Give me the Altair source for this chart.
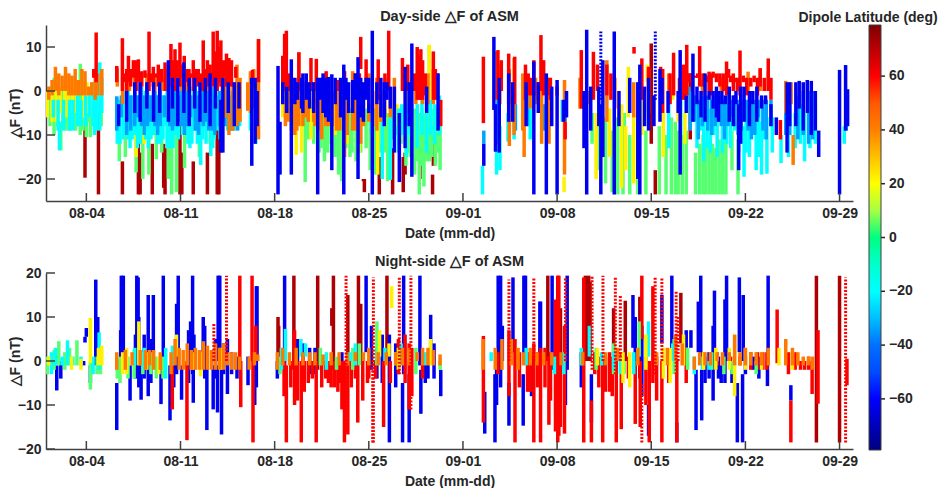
import altair as alt
import pandas as pd

# Every segment: (day since 1 Aug, low, high).
LAT_STOPS = [-79, -60, -40, -20, 0, 20, 40, 60, 79]
JET = ["#00007f", "#0000ff", "#0070ff", "#00ffff", "#00ff80", "#ffff00", "#ff8000", "#ff0000", "#7f0000"]
LAT_TICKS = [-60, -40, -20, 0, 20, 40, 60]
TICK_DATES = ["2021-08-04", "2021-08-11", "2021-08-18", "2021-08-25", "2021-09-01",
              "2021-09-08", "2021-09-15", "2021-09-22", "2021-09-29"]
DAY_TICKS = [-20, -10, 0, 10]
NIGHT_TICKS = [-20, -10, 0, 10, 20]

DAY_DARK = [(2.9,-19.7,-8),(3.9,-23.5,-5),(5.68,-23.5,-16),(6.87,-23.5,-9),(7.0,-23.5,-14),(7.9,-23.5,-12),(8.85,-23.5,-13),(8.75,-22,-12),
    (9.96,-23.5,-7),(10.1,-23.5,-14),(10.95,-23.5,-16),(12.0,-23.5,-14),(12.73,-23.5,-6),(12.85,-23.5,-9),(10.8,-10,-7),
    (23.67,-23,-20),(23.6,-20.5,-20),(24.78,-23.5,-15),(25.77,-23.5,-13),(26.56,-23,-15),(26.7,-19,-14),(27.8,-20,-16),(28.74,-23.5,-19),(28.8,-17,-12),
    (45.0,-12,10.8),(45.3,-23.5,-18),(47.4,4,-1),(47.9,-11,4)]
DAY_GREEN = [(0.3,-8,1),(0.6,-10,3),(1.1,-13.5,-7),(1.5,-9,0),(2.55,-10,6.2),(2.2,-9,0),(3.0,-10.5,-3),(3.3,-10.5,-2),(4.1,-8,5),(0.85,-8,-1),(1.25,-8,1),(1.8,-9,1),(2.4,-8,0),(2.75,-9,1),(3.15,-7,1),(3.55,-7,0),
    (5.45,-16,-10),(5.9,-15,-5),(6.7,-18.5,-8),(7.2,-20,-8),(7.65,-19,-6),(8.2,-15.5,-6),(8.6,-14,-4),(9.1,-20,-8),(9.35,-23.5,-9),(9.7,-23,-8),
    (10.3,-17.5,-8),(11.4,-15,-8),(12.2,-12,-6),(19.27,-20.7,-4),(20.7,-16,-5),(20.3,-14,-4),(21.75,-19,-5),(22.0,-20.5,-5),(22.6,-15,-4),(23.05,-16,-5),
    (24.5,-19,-4),(25.4,-20.5,-5),(24.1,-18,-6),(26.76,-17,5.5),(27.1,-15,-4),(27.4,-19,-4),(27.75,-23.5,-5),(28.1,-21.7,-5),(28.5,-16,10.3),(29.3,-18,-8),(28.95,-17,-5),
    (19.5,-11,-4),(19.9,-12,-4),(20.45,-13,-4),(20.95,-14,-4),(21.2,-12,-4),(21.5,-15,-4),(22.3,-13,-4),(22.75,-14,-4),(23.4,-14,-4),(23.8,-13,-4),(24.3,-12,-4),(24.8,-14,-4),(25.2,-14,-4),(25.7,-11,-4),(26.0,-10,-4),(26.4,-12,-4),(27.0,-14,-4),(27.55,-16,-4),(27.95,-17,-4),(28.3,-16,-4),(28.7,-15,-4),(29.1,-14,-4),
    (41.0,-18,-8),(42.5,-23.5,-6),(42.9,-23.5,-8),(43.4,-23.5,-10),(44.0,-23.5,-8),(44.6,-23.5,-9),(45.6,-23.5,-8),(46.1,-23.5,-10),(46.5,-23.5,-6),(46.8,-23.5,-7),
    (47.0,-23.5,-9),(47.3,-23.5,-10),(47.6,-23.5,-9),(48.3,-23.5,-14),(48.6,-23.5,-12),(48.85,-23.5,-10),(49.05,-23.5,-11),(49.3,-23.5,-11),(49.55,-23.5,-12),
    (49.8,-23.5,-13),(50.05,-23.5,-11),(50.3,-23.5,-11),(50.55,-23.5,-11),(51.0,-18,-9),(51.45,-23.5,-11),(43.0,-15,-5),(42.1,-23,-9),(41.6,-21,-6),(40.6,-12,-5)]
DAY_YELLOW = [(0.1,-6,0),(0.75,-7,1),(1.4,-6,2),(1.95,-5,2),(2.8,-6,1),(3.45,-6,0),(4.05,-5,5),(0.45,-7,0),(1.05,-5,1),(1.65,-6,2),(2.25,-5,0),(3.05,-5,2),(3.7,-5,2),(6.7,-15,-4),(7.3,-12,-3),
    (18.6,-14.5,-3),(19.0,-14,-3),(19.7,-11,-2),(18.3,-9,-4),(17.6,-6,-2),(21.5,-10,-3),(22.4,-12,-3),(23.3,-14,-3),(24.66,-19,-4),(25.0,-12,-3),(26.1,-8,-3),(26.3,-11,-4),(28.5,-3,10.5),
    (40.9,-20,-5),(41.9,-15,-4),(42.8,-22,-3),(43.3,5.5,-6),(43.1,-18,-8),(43.7,-21,-5),(44.3,-10,-2),(44.7,2,6),(45.9,-15,-5),(47.0,-7,-2),(47.5,-12,-5),(46.6,-2,0),
    (38.52,-23,-19.5)]
DAY_CYAN = [(0.9,-9,-2),(1.0,-13.5,-7),(1.75,-9,-2),(2.35,-8,-1),(3.6,-10,-2),(3.75,-9,-1),(4.0,-9,6.5),(3.5,-8,2),(4.15,-5,3),(0.55,-6,-2),(1.3,-9,-2),(2.0,-9,-2),(2.6,-8,-2),(2.95,-8,-1),(3.25,-6,-1),
    (5.3,-12,-1.5),(5.5,-12,-2),(5.75,-11,0),(6.1,-11,0),(6.4,-11,-1),(6.8,-13,-1),(7.4,-11,0),(7.8,-11,-1),(8.0,-10,0),(8.3,-12,-1),(8.7,-11,-1),(9.0,-13,0),
    (9.45,-13,-1),(9.85,-11,0),(10.15,-10,-1),(10.55,-12,0),(10.7,-13,1),(11.0,-9,2),(11.25,-12,0),(11.5,-16.8,-5),(11.9,-12,0),(12.25,-14.8,-5),(12.5,-11,-1),(13.1,-10,0),(13.5,-9,0),(14.0,-9,-2),(14.4,-8,1),
    (5.95,-9,-1),(6.25,-13,-1),(6.6,-10,-1),(7.0,-12,-1),(7.2,-8,-1),(7.6,-13,-1),(8.15,-9,-1),(8.5,-12,-1),(8.85,-8,-1),(9.25,-13,-1),(9.65,-10,-1),(10.35,-8,-1),(10.85,-12,-1),(11.15,-9,-1),(11.65,-11,-1),(12.1,-8,-1),(12.4,-13,-1),(12.7,-9,-1),(12.95,-11,-1),(13.3,-7,-1),(13.75,-9,-1),(14.2,-6,-1),
    (15.2,-9,-3),(15.6,-12,-4),(19.5,-7,-2),(24.2,-10,-3),(25.0,-20,-5),(25.6,-20.2,-6),(26.2,-14,-4),(26.8,-15,-3),(27.2,-13,-3),(27.6,-13,-3),(28.3,-14,-3),(28.9,-12,-3),(29.25,-10,-1),(26.45,-10,-3),(27.0,-10,-2),(27.95,-10,-2),(28.6,-10,-2),
    (32.45,-23.5,-17),(33.5,-19,-9),(33.75,-18,-8),(34.35,-11.5,-5),(34.8,-11,-6),(36.0,-11,-4),(44.0,-8,1),
    (46.3,-13,3),(47.2,-11,0),(48.4,-13,-3),(48.9,-16,-5),(49.4,-14,-4),(49.9,-15,-5),(50.3,-14,-5),(50.9,-13,-6),(51.5,-14,-6),(51.9,-19.5,-8),(52.3,-15,-5),(52.8,-18,-7),(53.2,-19,-7),(53.6,-18.8,-6),(54.0,-14,-6),(48.65,-9,-4),(49.15,-13,-4),(49.65,-10,-4),(50.6,-12,-4),(51.2,-9,-4),(52.05,-14,-4),(52.55,-10,-4),(53.0,-15,-4),(53.4,-11,-4),
    (54.65,-16.4,-10),(55.2,-15,-6),(55.7,-13,-5),(56.1,-12,-3),(56.4,-16,-5),(56.8,-13,-3),(57.2,-12,-3),(59.35,-12,-8)]
DAY_SKY = [(5.26,-9,-1.2),(6.0,-10,1),(6.6,-8,0),(7.1,-8,1),(7.55,-8,1),(8.1,-8,0),(8.5,-8,1),(9.2,-8,3),(9.6,-8,1),(10.1,-8,2),(10.45,-8,5),(11.1,-9,2),(11.7,-8,2),(12.1,-9,1),(12.35,-9,1),(12.9,-8,0),(13.3,-8,1),(13.85,-9,0),(14.25,-9,0),
    (5.6,-6,-1),(6.3,-9,-1),(6.85,-6,-1),(7.3,-10,-1),(7.8,-7,-1),(8.3,-10,-1),(8.8,-6,-1),(9.4,-9,-1),(9.85,-7,-1),(10.3,-10,-1),(10.75,-6,-1),(11.35,-10,-1),(11.95,-7,-1),(12.55,-10,-1),(13.1,-6,-1),(13.6,-9,-1),(14.1,-7,-1),
    (32.55,-12,-9),(33.6,-12,-2),(34.9,-9,-3),(35.8,-8,-1),(37.0,-9,-3),(38.4,-7,-2),(38.6,-7,-3),(47.9,-9,1),(48.2,-7,-1),(48.8,-8,-1),(49.2,-9,-1),(49.75,-8,-1),(50.2,-8,-1),(50.7,-8,-1),(51.2,-8,-1),(51.7,-9,-2),(52.2,-9,-2),(52.7,-10,-2),(53.3,-9,-2),(53.9,-8,-2),(48.5,-11,-2),(49.0,-6,-2),(49.5,-10,-2),(50.0,-7,-2),(50.45,-11,-2),(50.95,-6,-2),(51.45,-10,-2),(52.0,-7,-2),(52.45,-11,-2),(52.95,-6,-2),(53.55,-11,-2),
    (55.0,-10,0),(55.3,-10,-1),(55.9,-11,-1),(56.3,-10,0),(56.7,-12,0),(57.0,-11,0),(59.5,-9,0)]
DAY_ORANGE = [(0.2,-2,1),(0.45,-1,2.5),(0.7,0,5.5),(0.95,-1,4),(1.2,0,3.5),(1.45,0,5.5),(1.7,-1,4),(1.93,-1,3.5),(2.17,-1,5),(2.42,-1,2.5),(2.67,-1,5),(2.9,-1,4.5),(3.16,-1,1),(3.4,-1,2),(3.66,-2,3.5),(3.85,-1,4),(4.15,-1,5),
    (5.3,1,5.2),(5.7,-3,3),(6.2,0,3),(6.6,0,3),(7.0,0,3.5),(7.5,0,4),(8.1,0,3),(8.6,0,3),(9.1,0,3),(9.5,0,3),(10.1,0,3),(10.5,0,3),(11.0,0,3),(11.6,0,3),(12.1,0,3),(12.6,0,3),(13.1,0,4),(13.6,-10,5.5),(14.2,-8,6),(14.43,-7,3),(13.9,-9,2),(13.3,-6,3),
    (15.0,-4.5,2),(15.2,-5,4.5),(15.45,-4,5),(15.8,-11,11.8),(15.7,-10,3),
    (17.6,-3,3),(18.0,-7,2),(18.5,-10,3),(18.8,-8,8.8),(19.3,-6,2),(19.9,-7,2),(20.5,-11,3),(21.0,-8,3),(21.6,-9,2),(22.2,-15,2),(22.8,-9,4.5),(23.4,-12,2),(24.0,-7,4),(24.6,-9,3),(25.2,-6,3),(25.9,-4,3),(27.0,-5,2),(27.5,-3,3),(28.0,-3,3),(28.4,-3,4),(28.8,-3,5),
    (17.8,-8,0),(18.25,-9,0),(18.65,-9,0),(19.1,-8,0),(19.5,-7,0),(20.0,-8,0),(20.3,-9,0),(20.8,-8,0),(21.3,-8,0),(21.85,-9,0),(22.4,-10,0),(23.0,-9,0),(23.6,-8,0),(24.3,-8,0),(24.9,-7,0),(25.6,-6,0),
    (33.5,-2,9),(33.75,-3,6),(34.45,-12.5,5),(34.8,-10,7.5),(35.45,-9,4),(35.55,-15,3),(36.0,-4,2),(36.4,-3,3),(36.85,-12,7),(37.4,-12,3),(38.55,-19,2.5),
    (39.7,-4,3),(40.4,-3,0),(41.7,-7,7),(42.3,-4,3),(43.7,-6,2),(44.1,-5,2),(44.8,-5,5),(46.3,0,4),(47.5,-2,2),(48.8,-1,2.5),(50.2,0,3),(52.2,0,4.4),(53.1,0,5),(53.7,0,4.5),
    (55.0,-5,2.3),(55.55,-16.8,-10),(55.4,-3,2)]
DAY_RED = [(3.73,2,13.3),(3.55,3,5),(5.26,2,5.7),(5.68,0,12),(5.85,2,4),(6.0,0,5),(6.13,2,8),(6.3,1,5),(6.5,3,7),(6.7,0,7),(6.87,2,7.2),(7.12,1,4.5),(7.36,3,4.7),(7.66,0,13.5),(7.8,2,4),(7.98,1,5.5),(8.2,3,4),(8.35,1,6),(8.6,2,5),(8.85,0,6.5),(9.1,3,5),(9.29,1,10.7),(9.45,2,7),(9.59,0,9.5),(9.75,3,7),(9.96,1,11),(10.15,3,6),(10.28,0,8),(10.45,2,5),(10.63,1,5),(10.8,3,4),(10.95,0,7),(11.15,2,5),(11.32,1,5),(11.5,2,4),(11.69,0,11.5),(11.85,3,5),(12.0,1,7),(12.2,3,6),(12.43,1,13.5),(12.6,2,9),(12.73,0,13.7),(12.85,2,10),(13.0,1,11.5),(13.2,3,7),(13.42,1,8.5),(13.6,2,7.5),(13.79,1,7),(14.11,3,5.5),
    (15.35,1,4.8),(15.8,2,11.8),(17.74,0,13),(17.87,1,13.7),(17.6,0,8),(18.1,0,4),(18.8,0,8.8),(19.7,0,7.5),(20.1,0,7.3),(20.83,0,4.5),(21.7,0,2.5),(22.2,0,4.5),(23.0,0,4),(23.4,5,12.3),(23.3,0,4),(23.8,0,7.2),(24.7,-2,7.2),(25.2,-2,4),(25.48,0,13.7),(26.5,0,7.5),(26.9,0,6),(27.4,0,4),(27.6,-2,10),(27.87,-2,9.5),(28.2,-1,4),(28.8,-2,9),(29.1,-2,4),(29.35,-8,-2),(27.75,-2,8),(28.0,-2,7),(28.95,-2,5),
    (32.52,-7.3,7.8),(33.6,-2,9.3),(33.85,0,7),(34.4,-3,8.5),(34.85,-3,7.8),(35.65,-2,6),(36.27,-1,7),(36.6,-2,2),(36.8,0,12.7),(37.5,-2,3),(38.0,-1,1),(38.6,-11,-7),(35.85,-1,4),(36.05,-1,3),(37.0,-1,7),(37.3,-1,3),
    (39.8,-4,9.3),(40.7,-2,8.9),(41.0,0,6),(41.7,-1,6),(42.0,-2,4),(43.72,8.5,10),(44.3,-2,7.4),(44.8,0,5.5),(45.7,-2,5.5),(45.85,-5,5),(46.66,-1,8.7),(46.4,-3,4),(47.1,-3,3),(47.64,-1,10.5),(47.4,-2,6),(48.6,1,10.2),(48.3,3,3.5),(49.1,2,3.5),(49.3,0,4.4),(49.6,3,4.4),(50.1,1,4),(50.6,-1,6.7),(50.9,2,3.5),(51.1,0,4),(51.6,-1,9.2),(51.3,2,3),(52.4,1,3),(52.9,-1,3),(53.1,1,5.2),(53.7,0,7.4),(54.6,-11,-6.6),
    (47.85,2,4),(48.05,0,3),(48.45,3,4),(48.85,1,4),(49.45,-1,4),(49.85,2,4),(50.35,0,4),(50.75,3,5),(51.4,0,3),(51.85,2,3.5),(52.1,-1,3),(52.65,2,3.5),(53.4,0,3),(53.9,-2,3)]
DAY_BLUE = [(5.4,-8,-3),(6.0,-7,0),(6.6,-5,2),(7.0,-7,2),(7.5,-4,2),(8.0,-7,2),(8.45,-5,2),(9.1,-7,7),(9.4,-4,3),(9.8,-8,3),(10.25,-5,6.5),(10.65,-8,3),(11.05,-4,3),(11.45,-7,2),(11.85,-5,3),(12.2,-8,4),(12.6,-4,3),(13.0,-14,-2),(13.15,-14,3),(13.55,-5,2),(14.0,-8,2),(14.35,-4,2),
    (15.3,-17,3),(15.55,-12,3),(15.7,-8,0),(17.25,-23.5,5.7),(17.4,-19,-7),(18.24,-19,7.2),(18.5,-3,3),(19.1,-5,4),(19.6,-4,2),(20.2,-23.5,3),(20.6,-5,4),(21.25,-18,3.8),(21.0,-7,3.2),(22.14,-23.5,6),(22.5,-5,2),(23.2,-20,7.7),(23.6,-7,2),(24.26,-23.5,13.7),(25.15,-8,2),(25.9,-14,1),(26.27,-20.7,-5),(26.7,-13,5.5),(27.2,-19.5,10.8),(27.0,-8,2),(29.15,-9,4),(28.3,-5,1),
    (17.6,-3,2),(17.9,-5,1),(18.7,-2,2),(19.0,-4,3),(19.35,-2,4),(19.9,-5,2),(20.4,-2,3),(20.8,-6,3),(21.5,-3,3),(21.9,-6,3),(22.3,-2,3),(22.8,-5,2.5),(23.0,-2,4),(23.4,-6,3),(23.8,-2,3),(24.0,-5,3),(24.6,-3,2),(24.9,-6,3),(25.35,-2,2),(25.6,-4,1),
    (32.55,-17,-12),(33.3,-4.3,12.3),(33.42,-13.8,-3),(33.7,-14,3),(34.4,-7,4),(34.7,-7,2),(35.7,-8,2),(36.27,-23.5,6.7),(36.6,-5,2),(37.2,-23.5,4),(37.6,-8,1),(38.0,-23.5,2.5),(38.5,-7,-2),(38.7,-6,0),
    (40.2,-23.5,13.9),(40.0,-13,0),(40.5,-9,1),(41.25,-23.5,-3),(41.1,-8,1),(41.4,-15,7),(42.25,-23.5,13.5),(42.6,-8,0),(43.4,-5,3),(44.15,-23.5,6),(44.0,-20,2),(44.5,-8,1),(44.8,-9,3),(45.2,-8,-1),(45.65,-7,5),(45.8,-3,3),(46.25,-5,0),(47.15,-19,9.3),(47.0,-5,0),(47.6,-5,-1),(48.1,-7,8.5),(48.4,-3,1),(49.0,-7,4),(49.6,-4,0),(50.0,-7,0),(50.5,-3,-1),(51.1,-8,-1),(51.5,-18,-3),(51.65,-12,1),(52.3,-8,0),(53.2,-4,-1),(53.9,-8,-3),
    (48.7,-6,0),(49.3,-2,0),(49.85,-6,1),(50.25,-3,0),(50.8,-7,1),(51.3,-3,0),(51.9,-7,1),(52.55,-3,0),(52.85,-7,1),(53.5,-3,-1),
    (54.3,-10,-6),(55.1,-14,2),(55.3,-8,2),(55.75,-8,2),(56.0,-4,2.3),(56.3,-9,2),(56.6,-5,2.5),(56.9,-10,2.3),(57.2,-9,0),(57.45,-15,-9),
    (59.0,-23.5,4.8),(59.45,-9,5.9),(59.6,-8,0.4)]
DAY_BLUE_DOT = [(41.25,-2,13.5),(45.3,-2,13.5)]

NIGHT_DARK = [(17.25,-3,10),(17.3,0,8),(18.43,-2,19.4),(20.2,-2,19.4),(21.37,-2,19.4),(21.25,8,12),(22.44,0,15),(23.23,0,19.4),(23.4,0,13),(25.35,0,19.4),(37.31,0,19.4),(38.25,-2,12),(40.1,0,19.4),(40.35,0,19.4),(40.45,0,18),(42.2,0,12),(43.07,0,13.7),(44.15,-4,14.6),(47.2,4,15.5),(57.28,-18.5,19.4),(59.0,-18.5,19.4)]
NIGHT_RED = [(9.39,-11,0),(10.48,-18,0),(14.41,0,19.4),(14.48,-10.5,0),(15.32,0,19.4),(15.39,-18.5,0),(15.6,0,8),
    (17.87,-18.5,-1),(18.48,-10,7),(17.7,-8,0),(18.98,-18.5,0),(19.5,-5,0),(20.09,-18.5,0),(20.5,-6,0),(21.0,-5,0),(21.45,-6,0),(21.7,-7,0),(22.19,-18.5,0),(22.44,-16.7,0),(22.0,-11,0),(23.18,-14,0),(23.55,-9,0),(23.9,-5,0),(24.5,-4,0),(25.1,-15,0),(25.6,-5,0),(26.2,-3,5),(26.7,-5,6),(27.0,-11,4),(27.2,-8,3),(28.0,-4,0),(18.2,-6,0),(18.7,-9,0),(19.2,-7,0),(19.8,-4,0),(20.8,-4,0),(21.2,-6,0),(21.9,-5,0),(22.7,-6,0),(23.0,-4,0),(24.0,-4,0),
    (32.52,-14,5.7),(33.6,-3,2),(34.42,-8,7),(34.87,-18.5,5),(35.8,-7,2),(36.27,-18.5,4),(36.77,-18.5,3),(37.1,-6,3),(37.39,-14.5,1),(37.51,-9,2),(37.88,-16,14),(38.05,-18.5,19.4),(38.13,-17,19.4),(38.25,-15,0),(38.55,-16.5,8),(35.2,-6,2),(36.0,-7,2),(36.55,-6,2),
    (39.98,-18.5,19),(40.55,-18.5,-9),(40.8,-3,2),(41.39,-18.5,0),(41.9,-7,2),(42.4,-18.5,1),(42.77,-15.5,2),(43.81,-14.3,0),(44.3,5,19.4),(44.18,-15,0),(44.85,-18.5,0),(45.12,-5,17),(45.79,-18.5,0),(46.3,-5,0),(46.9,-18.5,0),(47.6,-5,3),(48.9,-1,2),(49.9,-1,2),(50.9,-1,1),(51.6,-1,1),(52.4,-2,2),(52.9,-2,2),(53.3,-2,2),(53.6,-2,2),(41.1,-6,1),(41.6,-7,1),(42.1,-8,1),(43.3,-4,1),(44.6,-10,1),(45.4,-9,1),
    (54.36,-0.5,11.7),(55.38,-18.5,-9),(55.2,-3,2),(55.7,-2,2),(56.1,-2,0),(56.4,-2,0),(56.7,-2,1),(56.96,-7.5,0),(57.4,-9.7,7),(59.55,-5.5,0.5)]
NIGHT_RED_DOT = [(12.48,0,8.5),(13.42,0,19.4),(22.31,-16,19.4),(24.34,-18.5,19),(24.29,-18.5,0),(26.27,-3,19),(27.13,-11,19.4),(34.42,0,18.5),(36.27,0,19),(38.62,0,19),(40.6,-2,19.4),(41.41,0,19.4),(42.33,-3,19),(42.7,0,15),(44.3,-18.5,-5),(45.29,-3,19),(45.79,0,19),(46.85,-3,16),(47.0,0,10),(59.45,-18.5,19)]
NIGHT_BLUE = [(0.8,-6.7,-1),(1.1,-4,0),(2.8,-1,0),(2.9,4.2,5.5),(3.0,5.5,7.5),(3.7,-1,18.5),(3.85,0,10),(3.3,-5,-1),(5.26,-15.7,-5),(5.6,6.5,19.4),(5.75,0,19.4),(6.25,-9,-1),(6.75,0,19.4),(6.85,-2,19),(7.07,-8.8,-1),(7.6,-8,15),(7.98,-1,15),(8.55,-9.8,-1),(8.72,0,19.4),(9.22,-13.5,-1),(9.71,-3,13),(9.83,0,19.4),(10.08,-8.8,-1),(10.75,0,9),(10.9,-3,19.4),(10.95,-9.5,-1),(11.69,0,10),(11.96,-15.7,-1),(12.43,-11,-1),(12.75,-11.7,-1),(12.8,0,19.4),(12.92,0,19.4),(13.05,-16.7,-1),(13.49,-7.5,5),(15.02,-5.5,1),(15.52,-10,1),(15.64,-6,17),(15.69,0,17),
    (5.55,0,7),(6.9,-6,10),(6.65,-4,6),(7.3,-4,6),(7.8,-5,5),(9.5,-6,3),(10.6,-5,7),(11.0,-2,6),(11.8,-4,8),(12.6,-4,5),(13.2,-3,4),(13.8,-3,2),(14.2,-4,1),
    (17.74,-2,19.4),(17.2,-4,0),(18.7,0,5),(19.6,-3,3),(25.53,-18.5,6),(26.59,-3,19.4),(26.51,-18.5,-5),(27.0,-18.5,-3),(27.8,-1,19.4),(27.87,-12,-2),(23.8,2,19.4),(24.2,-2,8),(25.0,-5,6),(28.6,0,10.5),(28.85,-4,4),(29.35,-8,-2),(19.1,-2,4),(20.0,-3,3),(22.0,-3,2),(24.6,-4,3),(26.0,-6,4),(28.2,-5,0),(28.4,-4,2),
    (32.62,-16.5,-7),(33.38,-18.5,-3),(33.5,-10,0),(33.62,0,19.4),(33.8,-6,19.4),(33.93,0,8),(34.42,-14.7,-5),(34.72,2,19),(35.48,-14.7,-3),(35.53,0,19.4),(35.65,0,19.4),(36.1,-8,1),(36.72,0,13.5),(36.77,-1,13.5),(37.63,-2,19.4),(37.9,-6,4),(38.62,-10,0),(38.75,-2,19.4),
    (39.8,-6,2),(40.55,-14,-3),(43.64,3,15),(43.81,-3,10),(44.3,-8,8),(44.8,-17,-10),(45.79,4,15),(46.53,0,19.4),(46.9,-18.5,-14),(47.6,3,7),(47.95,3,7),(48.33,-15.7,-2),(48.5,2,13.5),(48.68,0,19.4),(48.75,-13.5,-2),(49.3,-4,2),(49.6,-9,8),(49.7,-2,16),(50.2,-5,-1),(50.48,-5,14),(50.6,0,19.4),(51.0,-5,-1),(51.4,-18.5,-5),(51.79,-18.5,-3),(51.84,0,15),(51.55,2,19),(52.6,-2,1),(53.64,-5.7,0),(53.69,0,19.4),(55.38,-9,-5.5),(49.0,-5,1),(50.0,-4,1),(52.0,-3,1),(53.0,-4,1)]
NIGHT_MID_YELLOW = [(0.2,-1,1),(1.9,-2,1),(2.6,-2,0.5),(3.3,-0.5,9.8),(3.9,-1,3),(4.15,-1,3.5),(5.7,-3,2),(6.0,-3,3),(6.9,-1,9),(7.5,-2,2),(8.4,-3,1),(9.7,1,6),(10.9,-2,2),(11.5,-3.5,2),(13.0,-2,3),(24.8,1,7),(25.5,1,4),(25.7,12,17),(26.2,-2,3),(28.6,-1,5),(41.0,-1,3),(42.9,-5,2),(43.4,-6,2),(44.6,-2,6),(45.9,-4,3),(46.4,-5,3),(47.4,-1,6),(48.9,-2,2),(49.8,-2,3),(50.8,-2,3),(51.2,-8,6),(52.0,-2,3),(53.2,-2,2),(54.5,-1,3),(55.5,-2,2)]
NIGHT_MID_GREEN = [(0.1,-3,1),(0.6,-2,2.5),(0.95,-1,4.5),(1.4,-2,2),(1.75,-1,3),(2.3,-1,4.7),(3.3,-6.5,0),(3.8,-3,1),(4.05,-3,2.5),(5.3,-4,0),(5.5,-5,1),(6.1,-4,1),(6.55,-4,2.5),(7.2,-3,2),(7.8,-3,2),(8.2,-4,1),(8.7,-4,1),(17.4,-3,1),(20.4,-1,3),(21.6,-2,1),(22.8,-2,3),(23.3,-1,4),(24.6,-1,9),(26.0,-1,2),(27.0,0,2),(27.5,-3,3),(29.3,-2,0),(40.9,-2,3),(42.2,-3,4),(43.0,-3,0),(44.1,1,9),(46.7,-3,5),(47.7,-2,3),(49.5,-2,2),(50.4,-3,1),(51.0,-3,0),(52.8,-3,0)]
NIGHT_MID_CYAN = [(0.4,-3,2),(0.7,-1,3),(1.2,-1,1),(1.6,-1,4.7),(2.0,-1,1),(2.6,-1,1),(3.5,-3,1),(3.95,-2,6.5),(6.6,-1,3),(7.3,-2,3),(8.9,-4,3),(9.4,-1,3.5),(17.5,-2,3),(17.8,0,7.3),(18.95,1,5),(19.3,1,4),(20.85,-2,2),(22.6,0,2),(23.0,-1,4),(25.2,0,3),(26.4,-1,4),(28.2,-1,2),(33.1,0,2),(35.7,-1,3),(37.8,-3,1),(38.5,-3,2),(39.8,-1,3),(40.4,1,8),(41.3,-1,2),(42.2,-2,2),(42.7,-3,1),(43.7,-3,2),(44.8,1,9),(46.6,0,4),(48.2,-3,1),(48.8,-2,1),(49.3,-2,0)]
NIGHT_MID_ORANGE = [(5.26,-2,2),(5.9,-2,2.5),(6.4,-1,2),(7.0,-1,2.5),(7.4,-2,2.5),(7.7,-1,2.5),(8.0,-2,2.5),(8.5,-2,2),(9.3,-3,2),(9.6,-1,5),(9.9,-2,3),(10.2,-2,2.5),(10.5,-1,4),(10.8,-2,2.5),(11.1,-2,3),(11.4,-2,2.5),(11.7,-2,4.5),(12.0,-2,3.5),(12.3,-2,2.5),(12.6,-2,4),(12.9,-2,3),(13.2,-2,4),(13.5,-1,2),(13.8,-2,2),(14.1,-2,2),(14.4,-2,1),(15.1,-2,1),(15.5,-1,2),(15.75,0,1.5),
    (17.2,-2,2),(17.6,-1,3),(18.1,-1,2),(18.6,-1,3),(19.1,-1,2),(19.6,-1,2),(20.0,-1,2),(20.6,-1,1.5),(21.2,-1,2),(21.8,-1,2),(22.4,-1,2),(23.0,0,2),(23.6,0,2),(24.0,-1,3),(24.7,-1,2),(25.3,-1,2),(26.0,-1,2),(26.5,-1,3),(27.0,-1,3),(27.6,0,2),(28.0,-1,3),(28.4,-1,3),(28.8,-1,2.5),(29.3,-1,1.5),
    (32.5,-2,5),(33.4,-2,3),(33.9,-2,5),(34.6,-1,5),(35.1,-2,3),(35.5,-1,2),(36.0,-1,3),(36.5,-1,2),(37.0,-1,2),(37.6,-1,2),(38.3,-1,2),(39.9,-1,2),(41.6,-1,2),(42.5,0,3),(44.0,-1,3),(45.4,-1,2),(46.2,-1,3),(46.8,0,6),(47.3,-1,4),(48.2,-2,1),(48.6,-1,2),(49.0,-1,2),(49.4,-1,2),(49.9,0,2),(50.3,-1,2),(50.8,0,2),(51.2,-1,6),(51.6,-1,2),(52.0,-1,3),(52.4,-1,2),(52.8,-1,2),(53.2,-1,2),(53.7,-1,3),(55.0,-1,5),(55.5,-1,3),(55.9,-1,2),(56.3,-1,1),(56.7,-1,1),(57.0,-2,1)]

LAT_DARK, LAT_RED, LAT_ORANGE, LAT_YELLOW, LAT_GREEN, LAT_CYAN, LAT_SKY, LAT_BLUE = 72, 60, 42, 22, 3, -20, -34, -62


def table(*groups):
    rows = []
    for segs, lat in groups:
        for d, lo, hi in segs:
            rows.append({"date": (pd.Timestamp("2021-08-01") + pd.Timedelta(days=d)).isoformat(),
                         "lo": lo, "hi": hi, "lat": lat})
    return pd.DataFrame(rows).reset_index(names="n")


FONT = "Liberation Sans"
INK = "#262626"
AXIS = "#404040"
W, H = 807, 176
DOMAIN_X = ["2021-08-01T00:00:00", "2021-09-30T00:00:00"]


def panel(solid, dotted, ydomain, yticks, title, legend, title_offset):
    x = alt.X("date:T", scale=alt.Scale(domain=DOMAIN_X), title="Date (mm-dd)",
              axis=alt.Axis(values=[t + "T00:00:00" for t in TICK_DATES], format="%m-%d", tickSize=0, grid=False,
                            labelPadding=5, titlePadding=6, labelFontSize=14, titleFontSize=14))
    y = alt.Y("lo:Q", scale=alt.Scale(domain=ydomain, nice=False), title="△F (nT)",
              axis=alt.Axis(values=yticks, tickSize=0, grid=False, labelPadding=5, titlePadding=-5,
                            labelFontSize=14, titleFontSize=14))
    col = alt.Color("lat:Q", scale=alt.Scale(domain=LAT_STOPS, range=JET), legend=legend)
    base = alt.Chart(table(*solid)).mark_rule(strokeWidth=3.5, strokeCap="butt", clip=True).encode(
        x=x, y=y, y2="hi:Q", color=col, order="n:Q")
    dots = alt.Chart(table(*dotted)).mark_rule(strokeWidth=3, strokeDash=[2, 1.5], strokeCap="butt", clip=True).encode(
        x="date:T", y="lo:Q", y2="hi:Q", color=alt.Color("lat:Q", scale=alt.Scale(domain=LAT_STOPS, range=JET), legend=None))
    xticks = alt.Chart(pd.DataFrame({"date": [t + "T00:00:00" for t in TICK_DATES]})).mark_rule(color=AXIS, strokeWidth=1.5).encode(
        x="date:T", y=alt.value(H - 8), y2=alt.value(H))
    ytk = alt.Chart(pd.DataFrame({"v": yticks})).mark_rule(color=AXIS, strokeWidth=1.5).encode(
        y="v:Q", x=alt.value(0), x2=alt.value(9))
    layers = [base, dots, xticks, ytk]
    if legend is not None:
        bar_ticks = alt.Chart(pd.DataFrame({"lat": LAT_TICKS})).transform_calculate(
            px="(79 - datum.lat) / 158 * 425").mark_rule(color="#262626", strokeWidth=1.5).encode(
            y=alt.Y("px:Q", scale=None, axis=None),
            x=alt.value(835), x2=alt.value(839))
        bar_title = alt.Chart(pd.DataFrame({"t": ["Dipole Latitude (deg)"]})).mark_text(
            font=FONT, fontSize=14, fontWeight="bold", color=INK, align="center", baseline="middle").encode(
            text="t:N", x=alt.value(822), y=alt.value(-7))
        layers += [bar_ticks, bar_title]
    return alt.layer(*layers).properties(width=W, height=H,
        title=alt.TitleParams(title, fontSize=14.5, font=FONT, fontWeight="bold", color=INK, offset=title_offset, anchor="middle"))


LEGEND = alt.Legend(title=None, orient="none", legendX=823, legendY=0, direction="vertical",
                    gradientLength=425, gradientThickness=12, values=LAT_TICKS,
                    gradientStrokeColor=AXIS, gradientStrokeWidth=1, labelFontSize=14, labelOffset=8,
                    labelFont=FONT, labelFontWeight="bold", labelColor=INK)

top = panel([(DAY_DARK, LAT_DARK), (DAY_GREEN, LAT_GREEN), (DAY_YELLOW, LAT_YELLOW), (DAY_CYAN, LAT_CYAN), (DAY_SKY, LAT_SKY),
             (DAY_ORANGE, LAT_ORANGE), (DAY_RED, LAT_RED), (DAY_BLUE, LAT_BLUE)],
            [(DAY_BLUE_DOT, LAT_BLUE)], [-25, 15], DAY_TICKS, "Day-side △F of ASM", LEGEND, -13)
bottom = panel([(NIGHT_DARK, LAT_DARK), (NIGHT_BLUE, LAT_BLUE), (NIGHT_RED, LAT_RED), (NIGHT_MID_GREEN, LAT_GREEN),
                (NIGHT_MID_CYAN, LAT_CYAN), (NIGHT_MID_YELLOW, LAT_YELLOW), (NIGHT_MID_ORANGE, LAT_ORANGE)],
               [(NIGHT_RED_DOT, LAT_RED)], [-20, 20], NIGHT_TICKS, "Night-side △F of ASM", None, -3)

chart = alt.vconcat(top, bottom, spacing=72, bounds="flush").properties(padding={"left": 0, "top": 0, "right": 0, "bottom": 0}).configure(
    font=FONT
).configure_axis(labelFont=FONT, titleFont=FONT, labelFontWeight="bold", titleFontWeight="bold",
                 labelColor=INK, titleColor=INK, domainColor=AXIS, domainWidth=1.5
).configure_view(stroke=None)

chart.save("out.html", embed_options={"renderer": "svg", "actions": False})
